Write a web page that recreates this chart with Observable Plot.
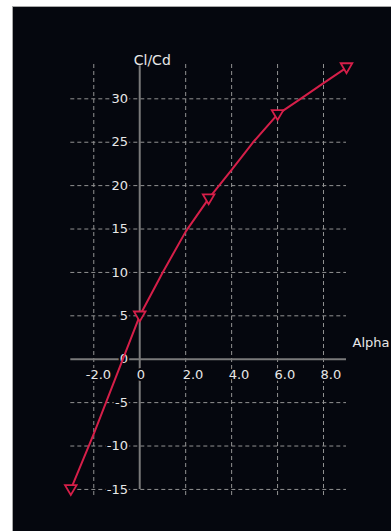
<!DOCTYPE html>
<html><head><meta charset="utf-8">
<script src="https://cdn.jsdelivr.net/npm/d3@7"></script>
<script src="https://cdn.jsdelivr.net/npm/@observablehq/plot@0.6"></script>
<style>
html,body{margin:0;padding:0;background:#fff;width:391px;height:531px;overflow:hidden}
#frame{position:absolute;left:12px;top:6px;width:379px;height:525px;background:#a8a8a8}
#chart{position:absolute;left:1px;top:1px;width:378px;height:524px;background:#05070e}
#chart svg{display:block}
</style></head><body>
<div id="frame"><div id="chart"></div></div>
<script>
// marker points (Alpha, Cl/Cd)
const alphaMarkers = [-3, 0, 3, 6, 9];
const clcdMarkers = [-15, 5, 18.5, 28.2, 33.6];
// polar curve read at 1° steps
const alphaCurve = [-3, -2, -1, 0, 1, 2, 3, 4, 5, 6, 7, 8, 9];
const clcdCurve = [-15, -8.6, -1.8, 5, 10, 14.7, 18.5, 21.8, 25.2, 28.2, 30.0, 31.8, 33.6];
// ticks
const xTicks = [-2, 0, 2, 4, 6, 8];
const xTickLabels = ["-2.0", "0", "2.0", "4.0", "6.0", "8.0"];
const yTicks = [-15, -10, -5, 0, 5, 10, 15, 20, 25, 30];
const yTickLabels = ["-15", "-10", "-5", "0", "5", "10", "15", "20", "25", "30"];
const yTitle = "Cl/Cd";
const xTitle = "Alpha";

const bg = "#05070e";
const red = "#d61f49";
const gridColor = "#939393";
const axisColor = "#7a7a7a";
const textColor = "#e8e8e8";

const curve = alphaCurve.map((a, i) => ({a, v: clcdCurve[i]}));
const markers = alphaMarkers.map((a, i) => ({a, v: clcdMarkers[i]}));
const xt = xTicks.map((a, i) => ({a, label: xTickLabels[i]}));
const yt = yTicks.map((v, i) => ({v, label: yTickLabels[i]}));

const triDown = {
  draw(ctx) {
    ctx.moveTo(-5.8, -4.3);
    ctx.lineTo(5.8, -4.3);
    ctx.lineTo(0, 5.6);
    ctx.closePath();
  }
};

const chart = Plot.plot({
  width: 378,
  height: 524,
  marginLeft: 57.3,
  marginRight: 45,
  marginTop: 56.6,
  marginBottom: 36,
  x: {domain: [-3, 9], axis: null},
  y: {domain: [-15.7, 34], axis: null},
  style: {background: bg, fontFamily: "DejaVu Sans", fontSize: "13px", overflow: "visible"},
  marks: [
    // dashed grid
    Plot.ruleY(yTicks.filter(v => v !== 0), {x1: -3, x2: 9, stroke: gridColor, strokeWidth: 1, strokeDasharray: "4,3"}),
    Plot.ruleX(xTicks.filter(a => a !== 0), {y1: -15.7, y2: 34, stroke: gridColor, strokeWidth: 1, strokeDasharray: "4,3"}),
    // axes lines
    Plot.ruleY([0], {x1: -3, x2: 9, stroke: axisColor, strokeWidth: 2}),
    Plot.ruleX([0], {y1: -15, y2: 33.8, stroke: axisColor, strokeWidth: 2}),
    // tick labels
    Plot.text(yt, {x: 0, y: "v", text: "label", textAnchor: "end", dx: -11.7, fill: textColor, stroke: bg, strokeWidth: 4, paintOrder: "stroke"}),
    Plot.text(xt.filter(d => d.a < 0), {x: "a", y: 0, text: "label", textAnchor: "start", dx: -8, dy: 16, fill: textColor, stroke: bg, strokeWidth: 4, paintOrder: "stroke"}),
    Plot.text(xt.filter(d => d.a >= 0), {x: "a", y: 0, text: "label", textAnchor: "start", dx: -3, dy: 16, fill: textColor, stroke: bg, strokeWidth: 4, paintOrder: "stroke"}),
    // titles
    Plot.text([yTitle], {x: 0, y: 34, text: d => d, textAnchor: "start", dx: -6, dy: -4, fill: textColor, fontSize: 14}),
    Plot.text([xTitle], {x: 9, y: 0, text: d => d, textAnchor: "start", dx: 6, dy: -16.5, fill: textColor}),
    // data
    Plot.line(curve, {x: "a", y: "v", stroke: red, strokeWidth: 2}),
    Plot.dot(markers, {x: "a", y: "v", symbol: triDown, r: 6, stroke: red, strokeWidth: 1.8, fill: bg})
  ]
});
document.getElementById("chart").appendChild(chart);
</script>
</body></html>
